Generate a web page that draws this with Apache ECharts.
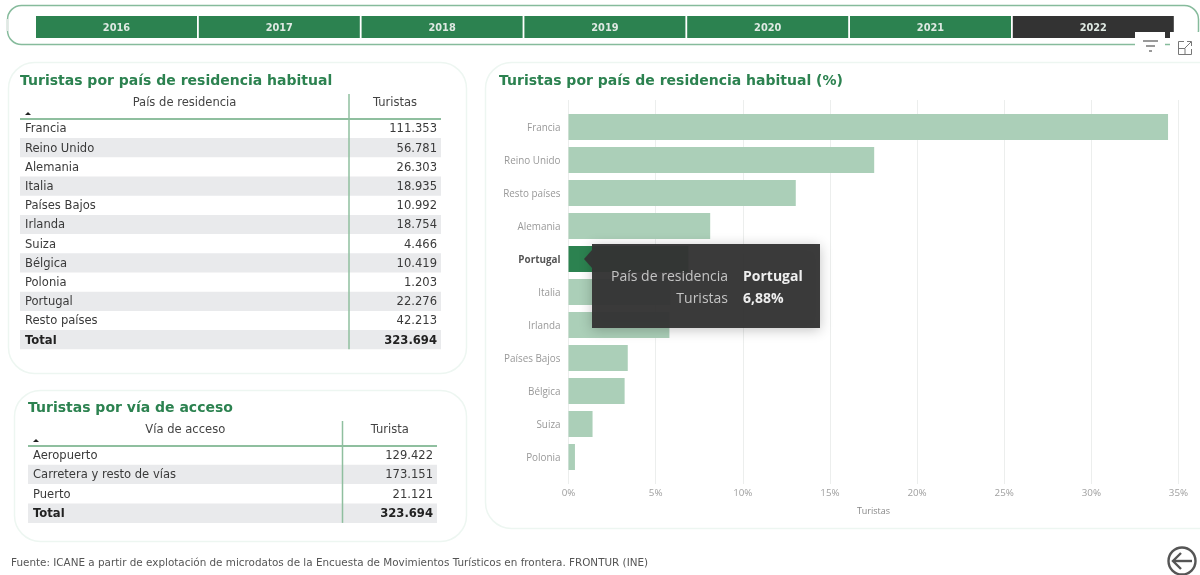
<!DOCTYPE html>
<html>
<head>
<meta charset="utf-8">
<style>html,body{margin:0;padding:0;background:#fff}#c{width:1200px;height:575px}</style>
<script src="https://cdn.jsdelivr.net/npm/echarts@6/dist/echarts.min.js"></script>
</head>
<body>
<div id="c"></div>
<script>
// Year selector
const years = ['2016','2017','2018','2019','2020','2021','2022'];
const activeYear = '2022';

// Tourists by country of residence
const paises = ['Francia','Reino Unido','Alemania','Italia','Países Bajos','Irlanda','Suiza','Bélgica','Polonia','Portugal','Resto países'];
const turistasPais = ['111.353','56.781','26.303','18.935','10.992','18.754','4.466','10.419','1.203','22.276','42.213'];
const totalPais = '323.694';

// Tourists by means of access
const vias = ['Aeropuerto','Carretera y resto de vías','Puerto'];
const turistasVia = ['129.422','173.151','21.121'];
const totalVia = '323.694';

// Share of tourists by country (%)
const barCategories = ['Francia','Reino Unido','Resto países','Alemania','Portugal','Italia','Irlanda','Países Bajos','Bélgica','Suiza','Polonia'];
const barShares = [34.40,17.54,13.04,8.13,6.88,5.85,5.79,3.40,3.22,1.38,0.37];
const xTicks = [0,5,10,15,20,25,30,35];
const selectedCountry = 'Portugal';

const GREEN = '#2c8250', PALE = '#abcfb8', STRIPE = '#e9eaec', RULE = '#8fbf9f', TEXT = '#3a3a3a';
const TABLE_FONT = '"DejaVu Sans"';
const UI_FONT = '"Open Sans"';

const g = [];
const rect = (x,y,w,h,fill,z) => g.push({type:'rect',shape:{x,y,width:w,height:h},style:{fill},z:z||1,silent:true});
const panel = (x,y,w,h,r,stroke,lw) => g.push({type:'rect',shape:{x,y,width:w,height:h,r},style:{fill:'#fff',stroke,lineWidth:lw||1.5},z:0,silent:true});
const label = (x,y,text,o) => g.push({type:'text',x,y,z:5,silent:true,style:Object.assign({text,fill:TEXT,font:'11.55px '+TABLE_FONT,align:'left',verticalAlign:'middle'},o)});
const line = (x1,y1,x2,y2,stroke,lw,z) => g.push({type:'line',shape:{x1,y1,x2,y2},z:z||4,silent:true,style:{stroke,lineWidth:lw}});

// Panels
panel(7.5,5.5,1191,39,14,'#86bb9c',1.5);
line(7.5,19,7.5,31,'#e2e6e4',1.5,1);
line(1198.5,41,1198.5,44,'#ffffff',2,1);
panel(8.5,62.5,458,311,26,'#edf6f1');
panel(14.5,390.5,452,151,26,'#edf6f1');
panel(485.5,62.5,740,466,26,'#edf6f1');

// Year buttons
years.forEach((y,i) => {
  const x = 36 + i*162.8;
  rect(x,16,161,22,y===activeYear ? '#333333' : GREEN,2);
  label(x+80.5,28,y,{fill:'#dfe9e3',font:'bold 9.8px '+TABLE_FONT,align:'center'});
});

// Visual-options header: notches over the selector and its two icons
rect(1135,32,30,24,'#fff',3);
rect(1170,32,30,7,'#fff',3);
rect(1170,39,32,17,'#fff',3);
line(1143,41,1158,41,'#555',1.2);
line(1146,46,1155,46,'#555',1.2);
line(1149,51,1152,51,'#555',1.2);
g.push({type:'polyline',z:5,silent:true,shape:{points:[[1184,41.5],[1178.5,41.5],[1178.5,54.5],[1191.5,54.5],[1191.5,49]]},style:{fill:null,stroke:'#777',lineWidth:1}});
g.push({type:'polyline',z:5,silent:true,shape:{points:[[1187,41.5],[1191.5,41.5],[1191.5,46]]},style:{fill:null,stroke:'#777',lineWidth:1}});
line(1191,42,1185,48,'#777',1);
line(1179,48.5,1185,48.5,'#777',1);
line(1185,48.5,1185,54,'#777',1);

// Table drawing shared by both lists
function table(t) {
  label(t.titleX,t.titleY,t.title,{fill:GREEN,font:'bold 14px '+TABLE_FONT});
  label((t.left+t.sep)/2,t.headY,t.col1,{align:'center',fill:'#444'});
  label((t.sep+t.right)/2,t.headY,t.col2,{align:'center',fill:'#444'});
  g.push({type:'polygon',z:5,silent:true,shape:{points:[[t.left+5,t.headLine-4],[t.left+8,t.headLine-7],[t.left+11,t.headLine-4]]},style:{fill:'#222'}});
  t.names.forEach((n,i) => {
    const cy = t.firstRow + i*t.step;
    if (i%2===1) rect(t.left,cy-t.step/2,t.right-t.left,t.step,STRIPE,1);
    label(t.left+5,cy+0.8,n);
    label(t.right-4,cy+0.8,t.values[i],{align:'right'});
  });
  const ty = t.firstRow + t.names.length*t.step;
  rect(t.left,ty-t.step/2,t.right-t.left,t.step,STRIPE,1);
  label(t.left+5,ty+0.8,'Total',{font:'bold 11.6px '+TABLE_FONT,fill:'#222'});
  label(t.right-4,ty+0.8,t.total,{align:'right',font:'bold 11.6px '+TABLE_FONT,fill:'#222'});
  line(t.left,t.headLine,t.right,t.headLine,RULE,2);
  line(t.sep,t.headTop,t.sep,ty+t.step/2,RULE,1.5);
}
table({title:'Turistas por país de residencia habitual',titleX:20,titleY:81,col1:'País de residencia',col2:'Turistas',
  left:20,right:441,sep:349,headTop:94,headY:103,headLine:119,firstRow:128.5,step:19.2,names:paises,values:turistasPais,total:totalPais});
table({title:'Turistas por vía de acceso',titleX:28,titleY:408,col1:'Vía de acceso',col2:'Turista',
  left:28,right:437,sep:342.5,headTop:421,headY:430,headLine:446,firstRow:455,step:19.4,names:vias,values:turistasVia,total:totalVia});

label(499,81,'Turistas por país de residencia habitual (%)',{fill:GREEN,font:'bold 14px '+TABLE_FONT});
label(11,563,'Fuente: ICANE a partir de explotación de microdatos de la Encuesta de Movimientos Turísticos en frontera. FRONTUR (INE)',{font:'10.4px '+TABLE_FONT,fill:'#555'});

// Back button
g.push({type:'circle',z:5,silent:true,shape:{cx:1182,cy:561,r:13.5},style:{fill:'#fff',stroke:'#555',lineWidth:2.4}});
g.push({type:'polyline',z:6,silent:true,shape:{points:[[1181,553],[1173,561],[1181,569]]},style:{fill:null,stroke:'#555',lineWidth:2.4}});
line(1173,561,1192,561,'#555',2.4,6);

// Tooltip of the highlighted country
g.push({type:'rect',z:20,silent:true,shape:{x:592,y:244,width:228,height:84},style:{fill:'rgba(52,52,52,0.96)',shadowBlur:12,shadowColor:'rgba(0,0,0,0.25)',shadowOffsetY:2}});
g.push({type:'polygon',z:20,silent:true,shape:{points:[[592,250],[584,259],[592,268]]},style:{fill:'rgba(52,52,52,0.96)'}});
const tip = (x,y,text,o) => { label(x,y,text,Object.assign({font:'14px '+UI_FONT,fill:'#c4c4c4'},o)); g[g.length-1].z = 21; };
tip(728,277,'País de residencia',{align:'right'});
tip(728,299,'Turistas',{align:'right'});
tip(743,277,selectedCountry,{font:'bold 14px '+UI_FONT,fill:'#eee'});
tip(743,299,barShares[barCategories.indexOf(selectedCountry)].toFixed(2).replace('.',',')+'%',{font:'bold 14px '+UI_FONT,fill:'#eee'});

const xMax = xTicks[xTicks.length-1];
const chart = echarts.init(document.getElementById('c'),null,{renderer:'canvas'});
chart.setOption({
  animation:false,
  graphic:{elements:g},
  // Outer grid carries the axis and gridlines, inner grid carries the bars
  grid:[
    {left:568.5,top:100,width:610,height:384,show:false},
    {left:568.5,top:110.5,width:610,height:363,show:false}
  ],
  xAxis:[
    {type:'value',gridIndex:0,min:0,max:xMax,interval:5,axisLine:{show:false},axisTick:{show:false},
     splitLine:{show:true,lineStyle:{color:'#eceeed',width:1}},
     axisLabel:{formatter:'{value}%',color:'#a0a0a0',fontSize:9.8,fontFamily:UI_FONT,margin:4},
     name:'Turistas',nameLocation:'middle',nameGap:23,nameTextStyle:{color:'#888',fontSize:9,fontFamily:UI_FONT}},
    {type:'value',gridIndex:1,min:0,max:xMax,show:false}
  ],
  yAxis:[
    {type:'category',gridIndex:0,show:false,data:barCategories},
    {type:'category',gridIndex:1,inverse:true,data:barCategories,axisLine:{show:false},axisTick:{show:false},
     axisLabel:{margin:8,color:'#999',fontSize:9.9,fontFamily:UI_FONT,padding:[2,0,0,0],
       formatter:v=>v===selectedCountry?'{sel|'+v+'}':v,
       rich:{sel:{color:'#555',fontWeight:'bold',fontSize:9.9,fontFamily:UI_FONT}}}}
  ],
  series:[{
    type:'bar',xAxisIndex:1,yAxisIndex:1,barWidth:26,silent:true,z:2,
    data:barCategories.map((c,i)=>({value:barShares[i],itemStyle:{color:c===selectedCountry?GREEN:PALE}}))
  }]
});
</script>
</body>
</html>
